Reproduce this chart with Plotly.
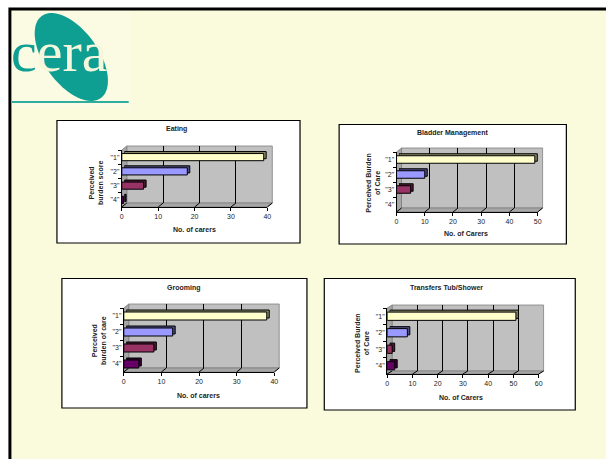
import math
import plotly.graph_objects as go

W, H = 606, 459
categories = ['"1"', '"2"', '"3"', '"4"']
bar_colors = ["#FFFFCC", "#9999FF", "#993366", "#660066"]
side_colors = ["#8a8a66", "#4d4d80", "#4d1a33", "#330033"]

eating_titles = ["Eating", "No. of carers", "Perceived<br>burden score"]
eating_values = [39, 18, 6, 0.5]
eating_ticks = [0, 10, 20, 30, 40]

bladder_titles = ["Bladder Management", "No. of Carers", "Perceived Burden<br>of Care"]
bladder_values = [49, 10, 5, None]
bladder_ticks = [0, 10, 20, 30, 40, 50]

grooming_titles = ["Grooming", "No. of carers", "Perceived<br>burden of care"]
grooming_values = [38, 13, 8, 4]
grooming_ticks = [0, 10, 20, 30, 40]

transfers_titles = ["Transfers Tub/Shower", "No. of Carers", "Perceived Burden<br>of Care"]
transfers_values = [51, 8, 2, 3]
transfers_ticks = [0, 10, 20, 30, 40, 50, 60]

# panel box, front plane box, wall offset, title / x-title / y-title centres
panels = [
    dict(v=eating_values, t=eating_ticks, s=eating_titles, box=(55.5, 120.5, 301, 243),
         f=(121, 150, 268, 207), d=(5, -4), tc=(176, 129), xc=(194, 230), yc=(95, 183)),
    dict(v=bladder_values, t=bladder_ticks, s=bladder_titles, box=(340.5, 124.5, 570, 244),
         f=(398.5, 152, 541, 212), d=(5, -4), tc=(455, 133), xc=(469, 233), yc=(374.5, 183)),
    dict(v=grooming_values, t=grooming_ticks, s=grooming_titles, box=(60.5, 278.5, 308, 408),
         f=(123, 308, 275, 372), d=(5, -4), tc=(183, 288), xc=(198, 395), yc=(98, 341)),
    dict(v=transfers_values, t=transfers_ticks, s=transfers_titles, box=(325.5, 278.5, 579, 410),
         f=(389, 308, 542, 374), d=(5, -3), tc=(449, 287), xc=(464, 397), yc=(363.5, 343)),
]

px = lambda x: x / W
py = lambda y: 1 - y / H
FONT = "Liberation Sans"
TEAL = "#0F9E92"
CREAM = "#FAFADC"

def poly(pts):
    return "M " + " L ".join(f"{px(x):.5f},{py(y):.5f}" for x, y in pts) + " Z"

fig = go.Figure()
shapes, annotations = [], []

# page frame
shapes.append(dict(type="rect", xref="paper", yref="paper", x0=px(8), x1=1.01, y0=-0.01, y1=py(9),
                   fillcolor=CREAM, line=dict(color="#000", width=3), layer="below"))
# logo
shapes.append(dict(type="rect", xref="paper", yref="paper", x0=px(10), x1=px(131), y0=py(109), y1=py(11),
                   fillcolor="#FBFBE3", line=dict(width=0), layer="below"))
cx, cy, ax, ay, delta = 70, 57, 37, 44, 1.0
ell = [(cx + ax * math.cos(a / 40 * math.pi), cy + ay * math.cos(a / 40 * math.pi - delta)) for a in range(80)]
shapes.append(dict(type="path", xref="paper", yref="paper", path=poly(ell), fillcolor=TEAL,
                   line=dict(width=0), layer="below"))
shapes.append(dict(type="rect", xref="paper", yref="paper", x0=px(10), x1=px(128), y0=py(103), y1=py(101),
                   fillcolor="#2FAE9F", line=dict(width=0), layer="below"))
annotations.append(dict(xref="paper", yref="paper", x=px(7), y=py(51), xanchor="left", yanchor="middle",
                        showarrow=False, text=f'<span style="color:{TEAL}">c</span>era',
                        font=dict(family="Liberation Serif", size=58, color="#F6F6DC")))

layout_axes = {}
n = 0
for p in panels:
    x0, y0, x1, y1 = p["f"]
    dx, dy = p["d"]
    top = p["t"][-1]
    # panel
    b = p["box"]
    shapes.append(dict(type="rect", xref="paper", yref="paper", x0=px(b[0]), x1=px(b[2]), y0=py(b[3]), y1=py(b[1]),
                       fillcolor="#fff", line=dict(color="#000", width=1.2), layer="below"))
    # walls
    shapes.append(dict(type="path", xref="paper", yref="paper", fillcolor="#C0C0C0",
                       line=dict(color="#808080", width=0.8), layer="below",
                       path=poly([(x0 + dx, y0 + dy), (x1 + dx, y0 + dy), (x1 + dx, y1 + dy), (x0 + dx, y1 + dy)])))
    shapes.append(dict(type="path", xref="paper", yref="paper", fillcolor="#A6A6A6",
                       line=dict(color="#808080", width=0.8), layer="below",
                       path=poly([(x0, y0), (x0 + dx, y0 + dy), (x0 + dx, y1 + dy), (x0, y1)])))
    shapes.append(dict(type="path", xref="paper", yref="paper", fillcolor="#A6A6A6",
                       line=dict(color="#808080", width=0.8), layer="below",
                       path=poly([(x0, y1), (x0 + dx, y1 + dy), (x1 + dx, y1 + dy), (x1, y1)])))
    # floor tick diagonals, one per axis tick
    for t in p["t"]:
        tx = x0 + (x1 - x0) * t / top
        shapes.append(dict(type="line", xref="paper", yref="paper", x0=px(tx), y0=py(y1), x1=px(tx + dx), y1=py(y1 + dy),
                           line=dict(color="#000", width=1), layer="above"))

    # three planes: wall (grid), bar depth, bar front
    for offx, offy, kind in ((dx, dy, "wall"), (2.5, -2, "depth"), (0, 0, "front")):
        n += 1
        xn, yn = ("x", "y") if n == 1 else (f"x{n}", f"y{n}")
        lx, ly = ("xaxis", "yaxis") if n == 1 else (f"xaxis{n}", f"yaxis{n}")
        front = kind == "front"
        layout_axes[lx] = dict(
            domain=[px(x0 + offx), px(x1 + offx)], range=[0, top], anchor=yn,
            tickvals=p["t"], showticklabels=front, ticks="outside" if front else "", ticklen=3,
            tickcolor="#000", tickwidth=1, tickfont=dict(family=FONT, size=7, color="#222"),
            showgrid=kind == "wall", gridcolor="#000", gridwidth=1, zeroline=False,
            showline=front, linecolor="#000", linewidth=1,
        )
        layout_axes[ly] = dict(
            domain=[py(y1 + offy), py(y0 + offy)], anchor=xn, type="category",
            categoryorder="array", categoryarray=categories, range=[3.5, -0.5],
            showticklabels=front, ticks="outside" if front else "", ticklen=3, tickson="boundaries",
            tickcolor="#000", tickwidth=1, tickfont=dict(family=FONT, size=7, color="#222"),
            showgrid=False, zeroline=False, showline=front, linecolor="#000", linewidth=1,
        )
        if kind == "wall":
            fig.add_trace(go.Bar(x=[None] * 4, y=categories, orientation="h", xaxis=xn, yaxis=yn,
                                 marker=dict(color="rgba(0,0,0,0)"), hoverinfo="skip", showlegend=False))
        else:
            fig.add_trace(go.Bar(x=p["v"], y=categories, orientation="h", xaxis=xn, yaxis=yn, width=0.5,
                                 marker=dict(color=bar_colors if front else side_colors,
                                             line=dict(color="#000", width=1)),
                                 showlegend=False))

    for (cxy, txt, ang) in ((p["tc"], p["s"][0], 0), (p["xc"], p["s"][1], 0), (p["yc"], p["s"][2], -90)):
        annotations.append(dict(xref="paper", yref="paper", x=px(cxy[0]), y=py(cxy[1]), showarrow=False,
                                xanchor="center", yanchor="middle", text=f"<b>{txt}</b>", textangle=ang,
                                font=dict(family=FONT, size=7, color="#222")))

fig.update_layout(width=W, height=H, margin=dict(l=0, r=0, t=0, b=0), autosize=False,
                  paper_bgcolor="#fff", plot_bgcolor="rgba(0,0,0,0)", barmode="overlay",
                  shapes=shapes, annotations=annotations, **layout_axes)
fig.write_html("out.html", config=dict(displayModeBar=False),
               post_script="document.body.style.margin='0';")
